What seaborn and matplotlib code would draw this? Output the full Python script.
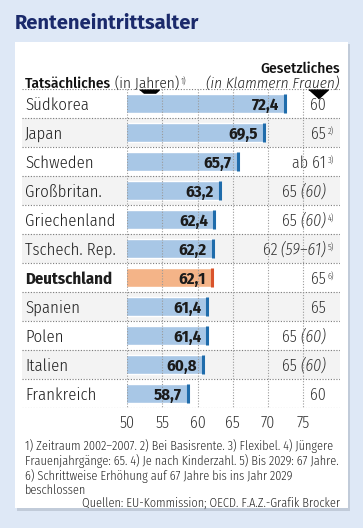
import matplotlib
matplotlib.use("Agg")
import matplotlib.pyplot as plt
import seaborn as sns
from matplotlib.patches import Rectangle

countries = ["Südkorea", "Japan", "Schweden", "Großbritan.", "Griechenland",
             "Tschech. Rep.", "Deutschland", "Spanien", "Polen", "Italien", "Frankreich"]
actual = [72.4, 69.5, 65.7, 63.2, 62.4, 62.2, 62.1, 61.4, 61.4, 60.8, 58.7]
legal = ["60", "65", "ab 61", "65", "65", "62", "65", "65", "65", "65", "60"]
legal_women = ["", "", "", "(60)", "(60)", "(59–61)", "", "", "(60)", "(60)", ""]
notes = ["", "2)", "3)", "", "4)", "5)", "6)", "", "", "", ""]
ticks = [50, 55, 60, 65, 70, 75]

footnotes = [
    "1) Zeitraum 2002–2007. 2) Bei Basisrente. 3) Flexibel. 4) Jüngere",
    "Frauenjahrgänge: 65. 4) Je nach Kinderzahl. 5) Bis 2029: 67 Jahre.",
    "6) Schrittweise Erhöhung auf 67 Jahre bis ins Jahr 2029",
    "beschlossen",
]
source = "Quellen: EU-Kommission; OECD. F.A.Z.-Grafik Brocker"

BG = "#dee8f6"
NAVY = "#1b2a6b"
BAR = "#a8c7e6"
BAR_EDGE = "#1f6cab"
DE_BAR = "#f4b488"
DE_EDGE = "#d9532b"
TXT = "#1e1e1e"
GREY_TXT = "#333333"

sns.set_style("white")
plt.rcParams["font.family"] = ["Fira Sans Condensed", "Liberation Sans Narrow", "DejaVu Sans"]
LIGHT = 300

W, H = 363, 528
fig = plt.figure(figsize=(W / 100, H / 100), dpi=100, facecolor=BG)


def fx(px):
    return px / W


def fy(py):
    return 1 - py / H


# white card with a soft shadow
fig.patches.append(Rectangle((fx(17), fy(511)), fx(333), (511 - 44) / H, zorder=-2,
                             transform=fig.transFigure, fc="#aeb8c6", ec="none", alpha=0.6))
fig.patches.append(Rectangle((fx(15), fy(508)), fx(333), (508 - 42) / H, zorder=-1,
                             transform=fig.transFigure, fc="white", ec="none"))

fig.text(fx(15), fy(23), "Renteneintrittsalter", color=NAVY, fontsize=14.5,
         fontweight="bold", family=["Fira Sans", "Liberation Sans", "DejaVu Sans"],
         va="center")

top, bottom = 89, 408
left_bg, right_bg = 22, 340
x50 = 127
ppu = 7.05  # pixels per year

ax_bg = fig.add_axes([fx(left_bg), fy(bottom), (right_bg - left_bg) / W, (bottom - top) / H])
ax = fig.add_axes([fx(x50), fy(bottom), (right_bg - x50) / W, (bottom - top) / H])

n = len(countries)
for a in (ax_bg, ax):
    a.set_ylim(n - 0.5, -0.5)
    for s in a.spines.values():
        s.set_visible(False)
ax_bg.set_xlim(0, 1)
ax_bg.set_xticks([])
ax_bg.set_yticks([])
ax.patch.set_alpha(0)

# row bands and dotted separators
for i in range(n):
    if i % 2 == 1:
        ax_bg.axhspan(i - 0.5, i + 0.5, color="#f3f3f3", lw=0, zorder=0)
for i in range(n + 1):
    ax_bg.axhline(i - 0.5, color="#7a7a7a", lw=0.8, ls=(0, (1, 1.5)), zorder=1)

ytr = ax_bg.get_yaxis_transform()
for i, c in enumerate(countries):
    is_de = c == "Deutschland"
    ax_bg.text(3 / (right_bg - left_bg), i, c, transform=ytr, va="center_baseline",
               ha="left", fontsize=12, color=TXT,
               fontweight="bold" if is_de else LIGHT)

# bars
palette = {c: (DE_BAR if c == "Deutschland" else BAR) for c in countries}
sns.barplot(x=actual, y=countries, hue=countries, palette=palette, orient="h",
            width=0.66, legend=False, ax=ax, zorder=2, saturation=1)
edge_cols = [DE_EDGE if c == "Deutschland" else BAR_EDGE for c in countries]
ax.vlines(actual, [i - 0.34 for i in range(n)], [i + 0.34 for i in range(n)],
          colors=edge_cols, lw=2.2, zorder=4)
ax.set_xlim(50, 50 + (right_bg - x50) / ppu)
ax.set_ylim(n - 0.5, -0.5)
ax.vlines(ticks, -0.5, n - 0.5, colors="#9a9a9a", lw=0.8, ls=(0, (1, 1.5)), zorder=3)

for i, v in enumerate(actual):
    ax.annotate(f"{v:.1f}".replace(".", ","), xy=(v, i), xytext=(-4.5, 0),
                textcoords="offset points", ha="right", va="center_baseline",
                fontsize=12, fontweight="bold", color="#1b1b1b", zorder=5)

ax.set_yticks([])
ax.set_ylabel("")
ax.set_xticks(ticks)
ax.set_xticklabels([str(t) for t in ticks], fontsize=11.5, color=GREY_TXT,
                   fontweight=LIGHT)
ax.tick_params(axis="x", length=0, pad=5)

# legal retirement age column
anchor = (326 - left_bg) / (right_bg - left_bg)
for i in range(n):
    if legal_women[i]:
        last = ax_bg.text(anchor, i, " " + legal_women[i], transform=ytr, ha="right",
                          va="center_baseline", fontsize=11.5, style="italic",
                          color=GREY_TXT, fontweight=LIGHT)
        ax_bg.annotate(legal[i], xy=(0, 0), xycoords=last, ha="right", va="bottom",
                       fontsize=11.5, color=GREY_TXT, fontweight=LIGHT)
    else:
        last = ax_bg.text(anchor, i, legal[i], transform=ytr, ha="right",
                          va="center_baseline", fontsize=11.5, color=GREY_TXT,
                          fontweight=LIGHT)
    if notes[i]:
        ax_bg.annotate(notes[i], xy=(1, 1), xycoords=last, xytext=(1, -1),
                       textcoords="offset points", ha="left", va="top",
                       fontsize=6, color=GREY_TXT, fontweight=LIGHT)

# header
t1 = fig.text(fx(25), fy(82), "Tatsächliches", fontsize=11, fontweight=500,
              color="#111111", va="center_baseline")
t2 = ax_bg.annotate(" (in Jahren)", xy=(1, 0), xycoords=t1, ha="left", va="bottom",
                    fontsize=11, color="#222222", fontweight=LIGHT)
ax_bg.annotate("1)", xy=(1, 1), xycoords=t2, xytext=(1, -1), textcoords="offset points",
               ha="left", va="top", fontsize=6, color="#222222", fontweight=LIGHT)
fig.text(fx(339), fy(82.5), "(in Klammern Frauen)", fontsize=11, style="italic",
         color="#222222", ha="right", va="center_baseline", fontweight=LIGHT)
fig.text(fx(340), fy(67.5), "Gesetzliches", fontsize=11, color="#111111",
         ha="right", va="center_baseline", fontweight=500)

# header triangles
tri = [(-1, 0.45), (1, 0.45), (0, -0.45)]
ax_bg.plot([(149 - left_bg) / (right_bg - left_bg), (318 - left_bg) / (right_bg - left_bg)],
           [-0.34, -0.34], ls="none", marker=tri, markersize=14, color="black",
           clip_on=False, zorder=6)

# footnotes and source
for k, line in enumerate(footnotes):
    fig.text(fx(25), fy(445 + 14.6 * k), line, fontsize=8.8, color="#222222",
             va="center_baseline", fontweight=LIGHT)
fig.text(fx(340), fy(502), source, fontsize=8.8, color="#222222", ha="right",
         va="center_baseline", fontweight=LIGHT)

fig.savefig("out.png", dpi=100, facecolor=BG)
